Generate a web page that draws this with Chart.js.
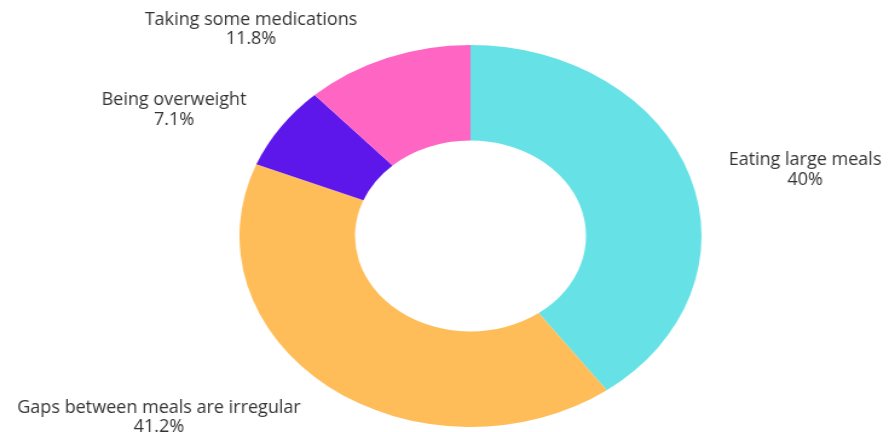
<!DOCTYPE html>
<html>
<head>
<meta charset="utf-8">
<script src="https://cdn.jsdelivr.net/npm/chart.js@4.4.1/dist/chart.umd.min.js"></script>
<style>
  html, body { margin: 0; padding: 0; background: #fff; overflow: hidden; }
  /* the reference ring is an ellipse, so the canvas is stretched sideways */
  #wrap { width: 735px; height: 432px; transform: scaleX(1.2095); transform-origin: 0 0; }
</style>
</head>
<body>
<div id="wrap"><canvas id="chart"></canvas></div>
<script>
const categories = ["Eating large meals", "Gaps between meals are irregular", "Being overweight", "Taking some medications"];
const values = [40, 41.2, 7.1, 11.8];
const valueLabels = ["40%", "41.2%", "7.1%", "11.8%"];
const colors = ["#66E2E6", "#FFBD59", "#5E17EB", "#FF66C4"];

// label anchors relative to ring centre, in page pixels (x centre, first baseline)
const labelSpots = [[334.5, -71], [-311.5, 176.5], [-296.5, -131], [-219.5, -211.5]];
const STRETCH = 889 / 735;

const sliceLabels = {
  id: "sliceLabels",
  afterDraw(chart) {
    const arc = chart.getDatasetMeta(0).data[0];
    const ctx = chart.ctx;
    ctx.save();
    ctx.scale(1 / STRETCH, 1); // undo the css stretch for text
    ctx.font = "18px 'Open Sans'";
    ctx.fillStyle = "#333333";
    ctx.textAlign = "center";
    ctx.textBaseline = "alphabetic";
    const cx = arc.x * STRETCH, cy = arc.y;
    labelSpots.forEach((p, i) => {
      ctx.fillText(categories[i], cx + p[0], cy + p[1]);
      ctx.fillText(valueLabels[i], cx + p[0], cy + p[1] + 19.5);
    });
    ctx.restore();
  }
};

new Chart(document.getElementById("chart"), {
  type: "doughnut",
  data: {
    labels: categories,
    datasets: [{
      data: values,
      backgroundColor: colors,
      borderWidth: 0
    }]
  },
  options: {
    responsive: true,
    maintainAspectRatio: false,
    animation: false,
    cutout: "50%",
    layout: { padding: { top: 45, bottom: 5, left: 198, right: 155 } },
    plugins: {
      legend: { display: false },
      tooltip: { enabled: false }
    }
  },
  plugins: [sliceLabels]
});
</script>
</body>
</html>
